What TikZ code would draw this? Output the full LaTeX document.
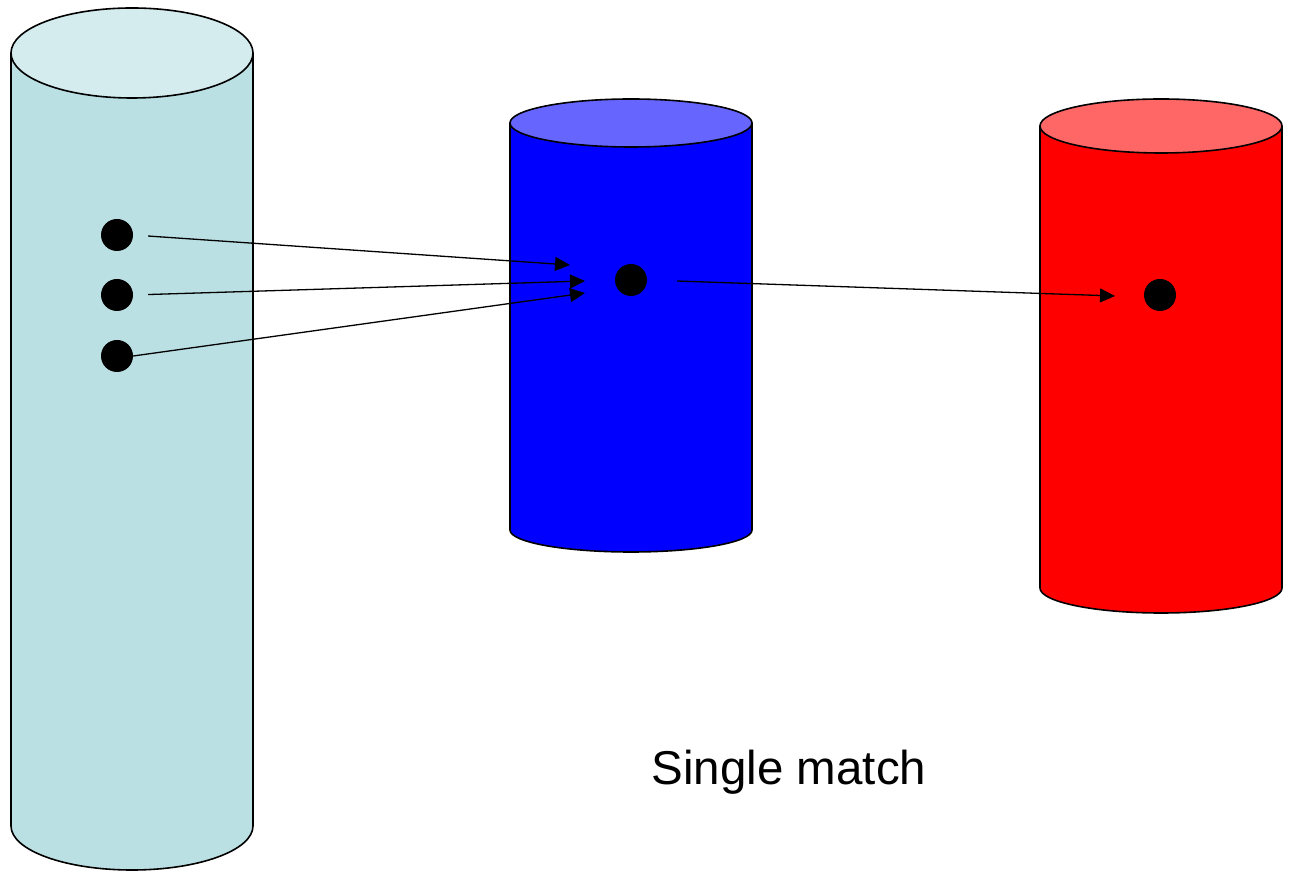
\documentclass[tikz,border=0pt]{standalone}
\usepackage{fontspec}
\setmainfont{Liberation Sans}
\usetikzlibrary{arrows.meta}
\definecolor{paleside}{HTML}{BBE0E3}
\definecolor{paletop}{HTML}{D5ECEE}
\definecolor{blueside}{HTML}{0000FF}
\definecolor{bluetop}{HTML}{6666FF}
\definecolor{redside}{HTML}{FF0000}
\definecolor{redtop}{HTML}{FF6666}
\tikzset{
  outline/.style={draw=black, line width=1.6pt, line join=round},
  dot/.style={circle, fill=black, draw=none, minimum size=32pt, inner sep=0pt},
  link/.style={draw=black, line width=1.3pt, -{Triangle[length=15pt, width=14pt]}},
  caption/.style={font=\fontsize{47.5}{56}\selectfont, inner sep=0pt}
}
% \drumshape{x left}{x right}{top y}{top ry}{bottom y}{bottom ry}{side colour}{top colour}
\newcommand{\drumshape}[8]{%
  \path[outline, fill=#7] (#1,#3) -- (#1,#5)
    arc[start angle=180, end angle=360, x radius={(#2-#1)/2*1pt}, y radius=#6pt]
    -- (#2,#3) -- cycle;
  \path[outline, fill=#8] ({(#1+#2)/2},#3) ellipse[x radius={(#2-#1)/2*1pt}, y radius=#4pt];
}
\begin{document}
\begin{tikzpicture}[x=1pt, y=1pt]
\useasboundingbox (0,0) rectangle (1293,873);

% three stores
\drumshape{11}{253}{820}{45}{47}{44}{paleside}{paletop}
\drumshape{510}{752}{750}{24}{343}{22}{blueside}{bluetop}
\drumshape{1040}{1282}{747}{27}{285}{25}{redside}{redtop}

% records
\node[dot] (s1) at (117,638) {};
\node[dot] (s2) at (117,578) {};
\node[dot] (s3) at (117,517) {};
\node[dot] (m)  at (631,593) {};
\node[dot] (t)  at (1160,578) {};

% arrow ends
\coordinate (e1) at (570,608);
\coordinate (e2) at (585,592);
\coordinate (e3) at (585,580);
\coordinate (e4) at (1115,577);

\draw[link, shorten <=15pt] (s1.east) -- (e1);
\draw[link, shorten <=15pt] (s2.east) -- (e2);
\draw[link] (s3.east) -- (e3);
\draw[link, shorten <=30pt] (m.east) -- (e4);

\node[caption] (label) at (789,101) {Single match};
\end{tikzpicture}
\end{document}
